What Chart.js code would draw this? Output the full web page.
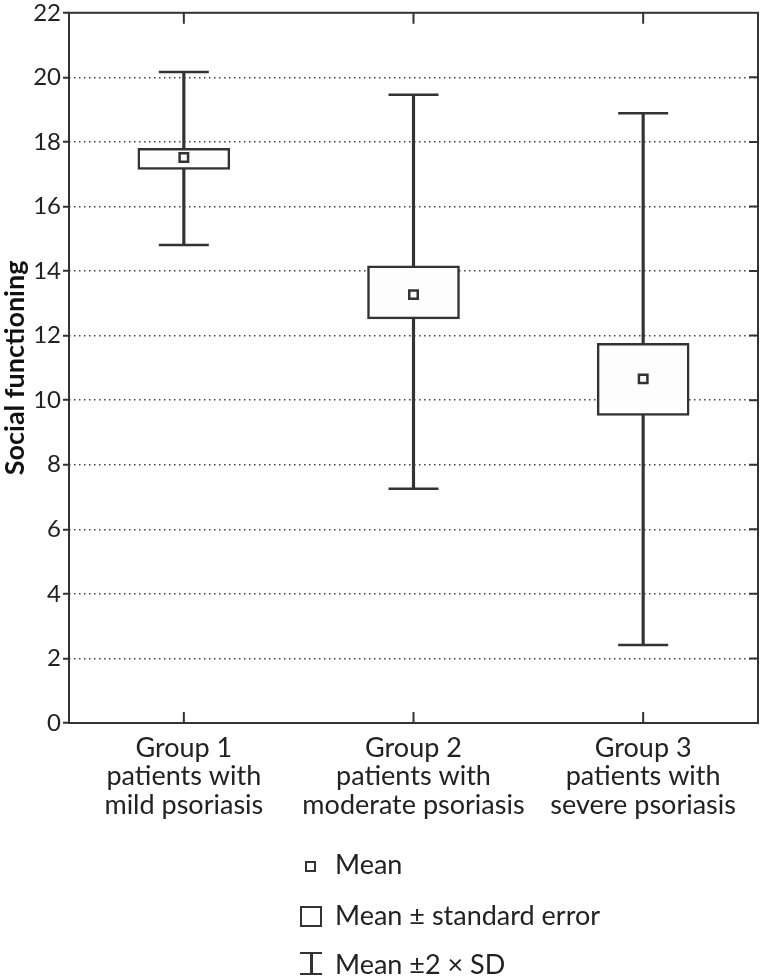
<!DOCTYPE html>
<html>
<head>
<meta charset="utf-8">
<script src="https://cdn.jsdelivr.net/npm/chart.js@4.4.1/dist/chart.umd.min.js"></script>
<style>
  html, body { margin: 0; padding: 0; background: #fff; }
  #wrap { position: relative; width: 760px; height: 977px; }
  #chart { position: absolute; left: 0; top: 0; }
  .leg { position: absolute; left: 335px; font: 27px Lato, sans-serif; color: #222; line-height: 30px; white-space: nowrap; }
  .ico { position: absolute; box-sizing: border-box; }
</style>
</head>
<body>
<div id="wrap">
  <canvas id="chart" width="760" height="977"></canvas>

  <div class="ico" style="left:305px;top:861px;width:11px;height:11px;border:2.5px solid #333;"></div>
  <div class="leg" style="top:849px;">Mean</div>

  <div class="ico" style="left:300px;top:906px;width:22px;height:21px;border:2.5px solid #333;"></div>
  <div class="leg" style="top:900px;">Mean ± standard error</div>

  <div class="ico" style="left:300px;top:952px;width:22px;height:23px;border-top:2.5px solid #333;border-bottom:2.5px solid #333;"></div>
  <div class="ico" style="left:310px;top:952px;width:2.5px;height:23px;background:#333;"></div>
  <div class="leg" style="top:949px;">Mean ±2 × SD</div>
</div>

<script>
const groups = [
  ['Group 1', 'patients with', 'mild psoriasis'],
  ['Group 2', 'patients with', 'moderate psoriasis'],
  ['Group 3', 'patients with', 'severe psoriasis']
];
const means  = [17.52, 13.27, 10.66];
const seLow  = [17.15, 12.52, 9.53];
const seHigh = [17.80, 14.16, 11.76];
const sdLow  = [14.81, 7.26, 2.42];
const sdHigh = [20.17, 19.46, 18.89];
const yMin = 0, yMax = 22, yStep = 2;

const ink = '#333';
const font = 'Lato, sans-serif';

// frame around the plot with the inward ticks on top, right and bottom
const framePlugin = {
  id: 'frame',
  afterDraw(chart) {
    const {ctx, chartArea: a, scales: {x, y}} = chart;
    ctx.save();
    ctx.strokeStyle = ink;
    ctx.lineWidth = 2;
    ctx.strokeRect(a.left, a.top, a.right - a.left, a.bottom - a.top);
    ctx.beginPath();
    x.ticks.forEach((t, i) => {
      const px = x.getPixelForTick(i);
      ctx.moveTo(px, a.bottom); ctx.lineTo(px, a.bottom - 11);
      ctx.moveTo(px, a.top); ctx.lineTo(px, a.top + 11);
    });
    y.ticks.forEach(t => {
      if (t.value === yMin || t.value === yMax) return;
      const py = y.getPixelForValue(t.value);
      ctx.moveTo(a.right, py); ctx.lineTo(a.right - 9, py);
    });
    ctx.stroke();
    ctx.restore();
  }
};

new Chart(document.getElementById('chart'), {
  type: 'bar',
  data: {
    labels: groups,
    datasets: [
      {
        label: 'Mean ±2 × SD',
        data: sdLow.map((v, i) => [v, sdHigh[i]]),
        backgroundColor: ink,
        borderWidth: 0,
        barThickness: 2.5,
        grouped: false,
        order: 3
      },
      {
        type: 'line',
        label: 'SD low cap',
        data: sdLow,
        showLine: false,
        pointStyle: 'line',
        pointRadius: 25,
        pointBorderWidth: 2.5,
        pointBorderColor: ink,
        order: 3
      },
      {
        type: 'line',
        label: 'SD high cap',
        data: sdHigh,
        showLine: false,
        pointStyle: 'line',
        pointRadius: 25,
        pointBorderWidth: 2.5,
        pointBorderColor: ink,
        order: 3
      },
      {
        label: 'Mean ± standard error',
        data: seLow.map((v, i) => [v, seHigh[i]]),
        backgroundColor: '#fdfdfd',
        borderColor: ink,
        borderWidth: 2.5,
        borderSkipped: false,
        barThickness: 92,
        grouped: false,
        order: 2
      },
      {
        type: 'line',
        label: 'Mean',
        data: means,
        showLine: false,
        pointStyle: 'rect',
        pointRadius: 6,
        pointBackgroundColor: '#fff',
        pointBorderColor: ink,
        pointBorderWidth: 2.5,
        order: 1
      }
    ]
  },
  options: {
    responsive: false,
    animation: false,
    events: [],
    layout: { autoPadding: false, padding: { top: 11, right: 2, left: 0, bottom: 134 } },
    plugins: {
      legend: { display: false },
      tooltip: { enabled: false }
    },
    scales: {
      x: {
        grid: { display: false },
        border: { display: false },
        ticks: { color: '#222', font: { family: font, size: 27, lineHeight: 1.05 }, padding: 3, maxRotation: 0, autoSkip: false },
        afterFit: s => { s.height = 120; }
      },
      y: {
        min: yMin,
        max: yMax,
        ticks: { stepSize: yStep, color: '#222', font: { family: font, size: 24, lineHeight: 0.9 }, padding: 2 },
        grid: {
          color: c => (c.tick && (c.tick.value === yMin || c.tick.value === yMax)) ? 'rgba(0,0,0,0)' : '#444',
          lineWidth: 1.5,
          tickLength: 6,
          tickColor: ink,
          tickWidth: 2,
          tickBorderDash: []
        },
        border: { display: false, dash: [1.5, 3.5], dashOffset: 0 },
        title: {
          display: true,
          text: 'Social functioning',
          color: '#111',
          font: { family: font, size: 27, weight: 'bold', lineHeight: 1.1 },
          padding: { top: 0, bottom: 0 }
        },
        afterFit: s => { s.width = 69; }
      }
    }
  },
  plugins: [framePlugin]
});
</script>
</body>
</html>
